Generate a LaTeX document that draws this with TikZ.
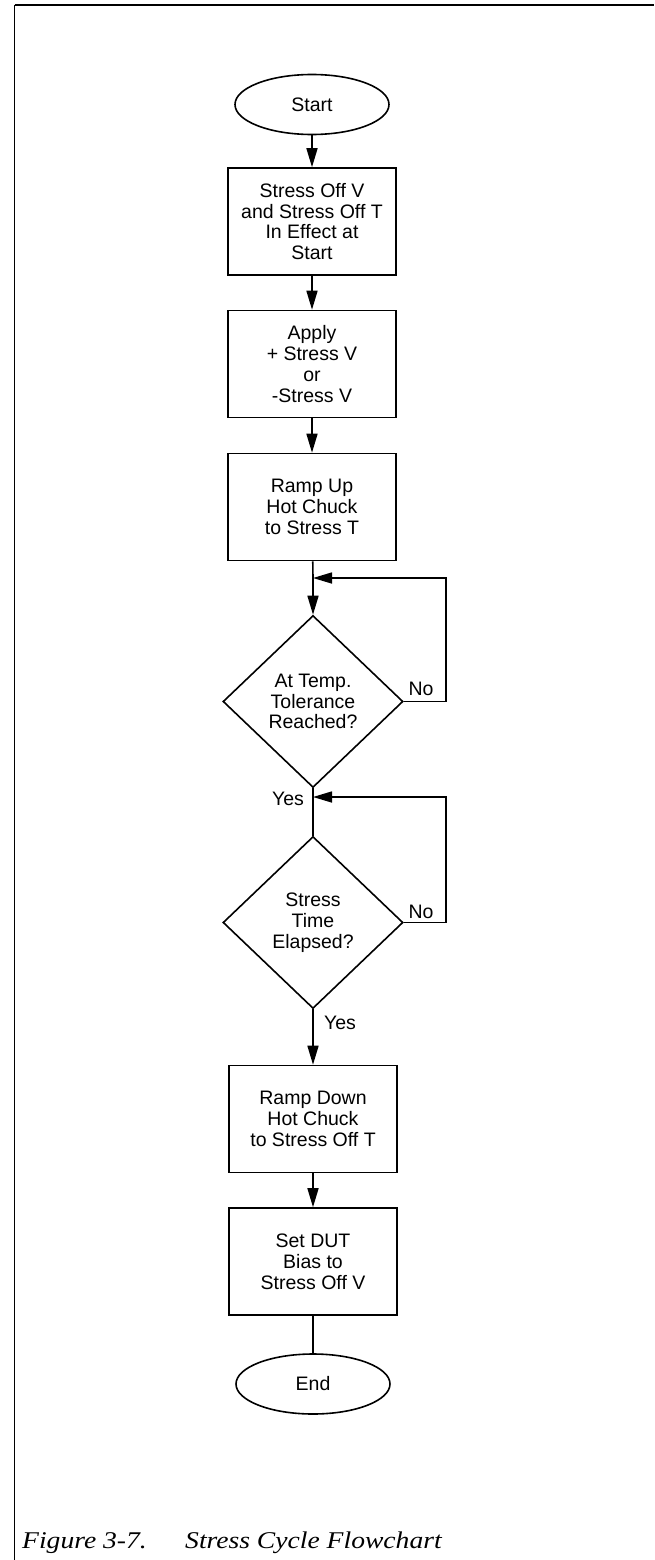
\documentclass[tikz,border=0pt]{standalone}
\usepackage{fontspec}
\setmainfont{Liberation Sans}
\newfontfamily\capfont[FakeStretch=1.15]{Liberation Serif}
\usetikzlibrary{shapes.geometric,arrows.meta}
\begin{document}
\begin{tikzpicture}[x=1pt,y=-1pt,
  every node/.style={font=\fontsize{19.5}{20.8}\selectfont, inner sep=0pt},
  flow/.style={line width=1.6pt},
  arr/.style={flow, -{Triangle[length=19pt,width=11pt]}},
  terminal/.style={ellipse, draw, line width=1.6pt, minimum width=154pt, minimum height=60pt},
  procbox/.style={rectangle, draw, line width=1.6pt, minimum width=168pt, minimum height=107pt, align=center},
  decision/.style={diamond, draw, line width=1.6pt, minimum width=180pt, minimum height=172pt, align=center},
  lbl/.style={font=\fontsize{19.5}{20.8}\selectfont},
  caption/.style={font=\capfont\itshape\fontsize{24}{28}\selectfont, anchor=base west}]
\useasboundingbox (0,0) rectangle (654,1560);

% page frame
\draw[line width=2.6pt] (14.5,5) -- (654,5);
\draw[line width=1.8pt] (14.5,1560) -- (14.5,5);

% nodes
\node[terminal] (start) at (312,104.5) {Start};
\node[procbox] (b1) at (312,221.5) {Stress Off V\\and Stress Off T\\In Effect at\\Start};
\node[procbox] (b2) at (312,364) {Apply\\+ Stress V\\or\\-Stress V};
\node[procbox] (b3) at (312,507) {Ramp Up\\Hot Chuck\\to Stress T};
\node[decision] (d1) at (313,701.5) {At Temp.\\Tolerance\\Reached?};
\node[decision] (d2) at (313,922.5) {Stress\\Time\\Elapsed?};
\node[procbox] (b4) at (313,1119) {Ramp Down\\Hot Chuck\\to Stress Off T};
\node[procbox] (b5) at (313,1261.5) {Set DUT\\Bias to\\Stress Off V};
\node[terminal] (end) at (313,1384) {End};

% junctions and loop-back column
\coordinate (j1) at (313,578);
\coordinate (j2) at (313,797);
\coordinate (loop1) at (446,578);
\coordinate (loop2) at (446,797);

% connectors
\draw[arr] (start) -- (b1);
\draw[arr] (b1) -- (b2);
\draw[arr] (b2) -- (b3);
\draw[flow] (b3) -- (j1);
\draw[arr] (j1) -- (d1);
\draw[arr] (d1.east) -| (loop1) -- (j1);
\draw[flow] (d1) -- (j2) -- (d2);
\draw[arr] (d2.east) -| (loop2) -- (j2);
\draw[arr] (d2) -- (b4);
\draw[arr] (b4) -- (b5);
\draw[flow] (b5) -- (end);

% branch labels
\node[lbl] (no1) at (421,689) {No};
\node[lbl] (no2) at (421,912) {No};
\node[lbl] (yes1) at (288,799) {Yes};
\node[lbl] (yes2) at (340,1023) {Yes};

% caption
\node[caption] (capnum) at (22,1548) {Figure 3-7.};
\node[caption] (captext) at (185,1548) {Stress Cycle Flowchart};
\end{tikzpicture}
\end{document}
